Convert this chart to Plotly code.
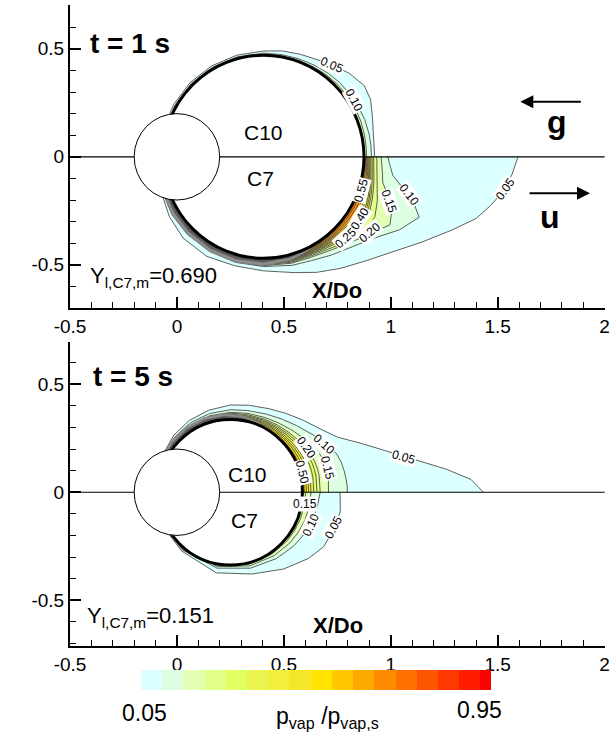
import numpy as np
import plotly.graph_objects as go

FONT = "Liberation Sans, Arial, Helvetica, sans-serif"

# ---------------- axes ----------------
X_RANGE = [-0.5, 2.002]
Y_RANGE_T1 = [-0.700, 0.703]
Y_RANGE_T5 = [-0.712, 0.697]
XTICK_VALS = [-0.5, 0, 0.5, 1, 1.5, 2]
XTICK_TEXT = ["-0.5", "0", "0.5", "1", "1.5", "2"]
YTICK_VALS = [-0.5, 0, 0.5]
YTICK_TEXT = ["-0.5", "0", "0.5"]

# ---------------- geometry (X/Do, Y/Do) ----------------
SUPPORT_R = 0.2
DROP_T1_CX, DROP_T1_R = 0.405, 0.47
DROP_T5_CX, DROP_T5_R = 0.25, 0.337

# ---------------- colour bands (p_vap/p_vap,s) ----------------
CB_COLORS = ["#dcffff", "#dcffe2", "#e4ffb4", "#e2ff88", "#e0ff60", "#ebf54e",
             "#f1ef3c", "#f6e62a", "#ffe400", "#ffc800", "#ffaa00", "#ff8c00",
             "#ff7000", "#ff5500", "#ff3800", "#ff1c00", "#ff0000"]
CB_EDGES = [0.05, 0.10, 0.15, 0.20, 0.25, 0.30, 0.35, 0.40, 0.45, 0.50, 0.55,
            0.60, 0.65, 0.70, 0.75, 0.80, 0.85, 0.875]

# ---------------- contour lines: offset from droplet surface vs polar angle ----------------
# t = 1 s, upper half (C10)
T1_UP_ANG = [0, 6, 12, 20, 28, 35, 44, 52, 60, 70, 80, 90, 105, 120, 135, 150, 162]
T1_UP = {
    0.05: [0.05, 0.051, 0.055, 0.072, 0.097, 0.105, 0.087, 0.065, 0.047, 0.035, 0.028, 0.02, 0.017, 0.016, 0.016, 0.015, 0.014],
    0.10: [0.035, 0.035, 0.035, 0.034, 0.031, 0.028, 0.025, 0.021, 0.017, 0.013, 0.011, 0.01, 0.009, 0.009, 0.009, 0.008, 0.008],
    0.15: [0.012, 0.012, 0.013, 0.014, 0.014, 0.013, 0.012, 0.01, 0.008, 0.006, 0.005, 0.005, 0.005, 0.005, 0.005, 0.005, 0.005],
}
# t = 1 s, lower half (C7)
T1_LO_ANG = [0, -4, -8, -12, -16, -21, -28, -36, -45, -55, -65, -75, -90, -105, -120, -135, -148, -162]
T1_LO = {
    0.05: [0.72, 0.695, 0.665, 0.615, 0.565, 0.475, 0.37, 0.28, 0.21, 0.16, 0.12, 0.085, 0.058, 0.052, 0.062, 0.062, 0.05, 0.035],
    0.10: [0.111, 0.125, 0.14, 0.19, 0.255, 0.31, 0.25, 0.17, 0.12, 0.085, 0.06, 0.05, 0.038, 0.036, 0.036, 0.036, 0.035, 0.03],
    0.15: [0.08, 0.085, 0.092, 0.1, 0.13, 0.175, 0.2, 0.14, 0.095, 0.062, 0.045, 0.04, 0.034, 0.033, 0.033, 0.033, 0.032, 0.028],
    0.20: [0.06, 0.062, 0.068, 0.075, 0.085, 0.1, 0.12, 0.12, 0.085, 0.053, 0.039, 0.035, 0.031, 0.03, 0.03, 0.03, 0.029, 0.025],
    0.25: [0.045, 0.047, 0.052, 0.058, 0.065, 0.075, 0.09, 0.09, 0.068, 0.045, 0.034, 0.031, 0.028, 0.027, 0.027, 0.027, 0.026, 0.023],
    0.30: [0.038, 0.04, 0.045, 0.05, 0.057, 0.067, 0.08, 0.078, 0.058, 0.039, 0.03, 0.028, 0.025, 0.024, 0.024, 0.024, 0.023, 0.02],
    0.35: [0.032, 0.034, 0.038, 0.043, 0.05, 0.06, 0.072, 0.068, 0.05, 0.034, 0.027, 0.025, 0.022, 0.021, 0.021, 0.021, 0.02, 0.018],
    0.40: [0.027, 0.029, 0.033, 0.037, 0.044, 0.054, 0.065, 0.06, 0.043, 0.03, 0.024, 0.022, 0.019, 0.018, 0.018, 0.018, 0.017, 0.015],
    0.45: [0.022, 0.024, 0.027, 0.031, 0.037, 0.045, 0.055, 0.05, 0.036, 0.026, 0.021, 0.019, 0.016, 0.015, 0.015, 0.015, 0.014, 0.013],
    0.50: [0.017, 0.019, 0.022, 0.025, 0.03, 0.037, 0.045, 0.041, 0.03, 0.022, 0.018, 0.016, 0.013, 0.012, 0.012, 0.012, 0.011, 0.01],
    0.55: [0.012, 0.014, 0.017, 0.02, 0.024, 0.029, 0.035, 0.032, 0.024, 0.018, 0.015, 0.013, 0.01, 0.009, 0.009, 0.009, 0.008, 0.008],
    0.60: [0.008, 0.009, 0.011, 0.014, 0.017, 0.021, 0.025, 0.023, 0.018, 0.014, 0.011, 0.01, 0.007, 0.006, 0.006, 0.006, 0.006, 0.005],
    0.65: [0.004, 0.005, 0.006, 0.008, 0.01, 0.012, 0.014, 0.013, 0.011, 0.009, 0.007, 0.006, 0.004, 0.003, 0.003, 0.003, 0.003, 0.003],
}
# t = 5 s, upper half (C10)
T5_UP_ANG = [0, 3, 6, 10, 15, 20, 27, 35, 45, 55, 65, 78, 90, 105, 120, 135, 150]
T5_UP = {
    0.05: [0.846, 0.79, 0.68, 0.54, 0.41, 0.32, 0.225, 0.175, 0.138, 0.11, 0.09, 0.075, 0.067, 0.056, 0.047, 0.037, 0.024],
    0.10: [0.21, 0.21, 0.208, 0.205, 0.2, 0.19, 0.165, 0.13, 0.1, 0.078, 0.062, 0.05, 0.045, 0.04, 0.035, 0.028, 0.02],
    0.15: [0.122, 0.123, 0.124, 0.126, 0.127, 0.122, 0.11, 0.09, 0.07, 0.055, 0.045, 0.037, 0.033, 0.03, 0.027, 0.022, 0.016],
    0.20: [0.083, 0.083, 0.084, 0.085, 0.085, 0.082, 0.077, 0.065, 0.053, 0.044, 0.037, 0.031, 0.029, 0.026, 0.023, 0.019, 0.014],
    0.25: [0.068, 0.068, 0.069, 0.07, 0.07, 0.068, 0.064, 0.055, 0.045, 0.037, 0.031, 0.026, 0.025, 0.023, 0.02, 0.017, 0.012],
    0.30: [0.053, 0.053, 0.054, 0.055, 0.055, 0.054, 0.051, 0.045, 0.037, 0.031, 0.026, 0.022, 0.021, 0.019, 0.017, 0.014, 0.01],
    0.35: [0.04, 0.04, 0.041, 0.042, 0.042, 0.041, 0.039, 0.035, 0.029, 0.025, 0.021, 0.018, 0.017, 0.016, 0.014, 0.012, 0.008],
    0.40: [0.029, 0.029, 0.03, 0.031, 0.031, 0.03, 0.029, 0.026, 0.022, 0.019, 0.016, 0.014, 0.013, 0.012, 0.011, 0.009, 0.006],
    0.45: [0.019, 0.019, 0.02, 0.021, 0.021, 0.02, 0.019, 0.017, 0.015, 0.013, 0.011, 0.01, 0.009, 0.009, 0.008, 0.007, 0.005],
    0.50: [0.009, 0.009, 0.01, 0.011, 0.011, 0.01, 0.01, 0.009, 0.008, 0.007, 0.006, 0.005, 0.005, 0.005, 0.004, 0.004, 0.003],
}
# t = 5 s, lower half (C7)
T5_LO_ANG = [0, -10, -20, -30, -40, -55, -75, -100, -130, -150]
T5_LO = {
    0.05: [0.176, 0.185, 0.175, 0.167, 0.14, 0.097, 0.055, 0.042, 0.018, 0.012],
    0.10: [0.083, 0.075, 0.067, 0.058, 0.05, 0.038, 0.027, 0.02, 0.012, 0.008],
    0.15: [0.04, 0.038, 0.035, 0.031, 0.027, 0.021, 0.016, 0.012, 0.008, 0.005],
    0.20: [0.015, 0.014, 0.013, 0.012, 0.011, 0.009, 0.008, 0.006, 0.004, 0.003],
}

# densely packed contour lines (grey bands): polar angle, outer / inner edge offsets
T1_BAND_ANG = [-55, -65, -75, -90, -105, -120, -135, -148, -162]
T1_BAND_OUT = [0.0, 0.012, 0.025, 0.033, 0.035, 0.036, 0.036, 0.034, 0.03]
T1_BAND_IN = [0.0, 0.006, 0.012, 0.018, 0.02, 0.021, 0.021, 0.02, 0.018]
T5_BAND_ANG = [58, 68, 80, 95, 110, 125, 140, 150]
T5_BAND_OUT = [0.0, 0.012, 0.022, 0.028, 0.03, 0.03, 0.028, 0.022]
T5_BAND_IN = [0.0, 0.006, 0.012, 0.016, 0.018, 0.018, 0.016, 0.012]

# contour labels: (text, x, y, angle)
T1_LABELS = [("0.05", 0.725, 0.425, 23), ("0.10", 0.828, 0.262, 62),
             ("0.05", 1.534, -0.147, -55), ("0.10", 1.087, -0.177, 52),
             ("0.15", 0.994, -0.208, 70), ("0.20", 0.905, -0.350, -40),
             ("0.25", 0.79, -0.377, -42), ("0.40", 0.858, -0.285, -58),
             ("0.55", 0.862, -0.154, -75)]
T5_LABELS = [("0.05", 1.06, 0.165, 16), ("0.10", 0.686, 0.222, 42),
             ("0.20", 0.606, 0.204, 55), ("0.15", 0.703, 0.111, 76),
             ("0.50", 0.585, 0.092, 76), ("0.15", 0.598, -0.055, 0),
             ("0.10", 0.626, -0.151, -65), ("0.05", 0.732, -0.159, -62)]


def band_color(level):
    return CB_COLORS[int(round(level / 0.05)) - 1]


def quadrant_traces(cx, R, angles, levels, xa, ya):
    out = []
    th = np.deg2rad(np.asarray(angles, float))
    for lev in sorted(levels):
        r = R + np.asarray(levels[lev], float)
        xs = np.concatenate([cx + r * np.cos(th), [0.0]])
        ys = np.concatenate([r * np.sin(th), [0.0]])
        out.append(go.Scatter(x=xs, y=ys, mode="lines", fill="toself",
                              fillcolor=band_color(lev),
                              line=dict(color="#4d4d4d", width=0.9),
                              hoverinfo="skip", showlegend=False,
                              xaxis=xa, yaxis=ya))
    return out


def grey_band(cx, R, angles, outer, inner, xa, ya):
    th = np.deg2rad(np.asarray(angles, float))
    out = []
    for offs, col in ((outer, "#8c8c8c"), (inner, "#5a5a5a")):
        r = R + np.asarray(offs, float)
        xs = np.concatenate([cx + r * np.cos(th), (cx + R * np.cos(th))[::-1]])
        ys = np.concatenate([r * np.sin(th), (R * np.sin(th))[::-1]])
        out.append(go.Scatter(x=xs, y=ys, mode="lines", fill="toself", fillcolor=col,
                              line=dict(color=col, width=0.5), hoverinfo="skip",
                              showlegend=False, xaxis=xa, yaxis=ya))
    return out


fig = go.Figure()
for tr in (quadrant_traces(DROP_T1_CX, DROP_T1_R, T1_UP_ANG, T1_UP, "x", "y")
           + quadrant_traces(DROP_T1_CX, DROP_T1_R, T1_LO_ANG, T1_LO, "x", "y")
           + grey_band(DROP_T1_CX, DROP_T1_R, T1_BAND_ANG, T1_BAND_OUT, T1_BAND_IN, "x", "y")
           + quadrant_traces(DROP_T5_CX, DROP_T5_R, T5_UP_ANG, T5_UP, "x2", "y2")
           + quadrant_traces(DROP_T5_CX, DROP_T5_R, T5_LO_ANG, T5_LO, "x2", "y2")
           + grey_band(DROP_T5_CX, DROP_T5_R, T5_BAND_ANG, T5_BAND_OUT, T5_BAND_IN, "x2", "y2")):
    fig.add_trace(tr)

# colour bar as discrete heatmap
n = len(CB_COLORS)
cscale = []
for i, c in enumerate(CB_COLORS):
    cscale.append([i / n, c])
    cscale.append([(i + 1) / n, c])
fig.add_trace(go.Heatmap(z=[[i + 0.5 for i in range(n)]], x=CB_EDGES, y=[0, 1],
                         zmin=0, zmax=n, colorscale=cscale, showscale=False,
                         hoverinfo="skip", xaxis="x3", yaxis="y3"))

shapes = []
for xr, yr, cx, R in (("x", "y", DROP_T1_CX, DROP_T1_R), ("x2", "y2", DROP_T5_CX, DROP_T5_R)):
    shapes.append(dict(type="circle", xref=xr, yref=yr, x0=cx - R, x1=cx + R, y0=-R, y1=R,
                       line=dict(color="black", width=3), fillcolor="white", layer="above"))
    shapes.append(dict(type="line", xref=xr, yref=yr, x0=-0.5, x1=2.0, y0=0, y1=0,
                       line=dict(color="black", width=1.2), layer="above"))
    shapes.append(dict(type="circle", xref=xr, yref=yr, x0=-SUPPORT_R, x1=SUPPORT_R,
                       y0=-SUPPORT_R, y1=SUPPORT_R,
                       line=dict(color="black", width=1), fillcolor="white", layer="above"))

ann = []


def txt(text, x, y, xr, yr, size, bold=False, **kw):
    if bold:
        text = "<b>" + text + "</b>"
    d = dict(text=text, x=x, y=y, xref=xr, yref=yr, showarrow=False,
             xanchor="center", yanchor="middle",
             font=dict(family=FONT, size=size, color="black"))
    d.update(kw)
    ann.append(d)


for labels, xr, yr in ((T1_LABELS, "x", "y"), (T5_LABELS, "x2", "y2")):
    for t, x, y, a in labels:
        txt(t, x, y, xr, yr, 12, textangle=a, bgcolor="white", borderpad=0)

txt("t = 1 s", -0.22, 0.526, "x", "y", 28, bold=True)
txt("t = 5 s", -0.206, 0.536, "x2", "y2", 28, bold=True)
txt("C10", 0.404, 0.111, "x", "y", 21)
txt("C7", 0.393, -0.10, "x", "y", 21)
txt("C10", 0.33, 0.08, "x2", "y2", 21)
txt("C7", 0.318, -0.131, "x2", "y2", 21)
txt("Y<sub>l,C7,m</sub>=0.690", -0.415, -0.555, "x", "y", 22, xanchor="left")
txt("Y<sub>l,C7,m</sub>=0.151", -0.43, -0.58, "x2", "y2", 22, xanchor="left")
txt("X/Do", 0.747, -0.617, "x", "y", 22, bold=True)
txt("X/Do", 0.755, -0.616, "x2", "y2", 22, bold=True)
txt("Y/Do", -0.755, 0.017, "x", "y", 22, bold=True, textangle=-90)
txt("Y/Do", -0.755, -0.058, "x2", "y2", 22, bold=True, textangle=-90)
txt("g", 1.778, 0.162, "x", "y", 32, bold=True)
txt("u", 1.743, -0.278, "x", "y", 32, bold=True)

# arrows g and u
ann.append(dict(x=1.606, y=0.255, ax=1.896, ay=0.255, xref="x", yref="y", axref="x", ayref="y",
                text="", showarrow=True, arrowhead=2, arrowsize=1.3, arrowwidth=2, arrowcolor="black"))
ann.append(dict(x=1.932, y=-0.169, ax=1.642, ay=-0.169, xref="x", yref="y", axref="x", ayref="y",
                text="", showarrow=True, arrowhead=2, arrowsize=1.3, arrowwidth=2, arrowcolor="black"))

# colour bar texts (paper coords)
txt("0.05", 0.139, -0.0187, "paper", "paper", 23)
txt("0.95", 0.765, -0.0144, "paper", "paper", 23)
txt("p<sub>vap</sub> /p<sub>vap,s</sub>", 0.481, -0.0245, "paper", "paper", 23)

axis_common = dict(showline=True, linewidth=2, linecolor="black", mirror=False,
                   ticks="inside", ticklen=11, tickwidth=2, tickcolor="black",
                   showgrid=False, zeroline=False,
                   tickfont=dict(family=FONT, size=19, color="black"),
                   minor=dict(ticks="inside", ticklen=6, tickwidth=1, tickcolor="black",
                              tickmode="linear", tick0=0, dtick=0.1, showgrid=False))

fig.update_layout(
    width=615, height=735,
    margin=dict(l=70, r=5, t=5, b=35),
    paper_bgcolor="white", plot_bgcolor="white",
    showlegend=False,
    shapes=shapes, annotations=ann,
    xaxis=dict(domain=[0, 1], range=X_RANGE, anchor="y", tickmode="array",
               tickvals=XTICK_VALS, ticktext=XTICK_TEXT, **axis_common),
    yaxis=dict(domain=[0.564, 1.0], range=Y_RANGE_T1, anchor="x", tickmode="array",
               tickvals=YTICK_VALS, ticktext=YTICK_TEXT, **axis_common),
    xaxis2=dict(domain=[0, 1], range=X_RANGE, anchor="y2", tickmode="array",
                tickvals=XTICK_VALS, ticktext=XTICK_TEXT, **axis_common),
    yaxis2=dict(domain=[0.0777, 0.5155], range=Y_RANGE_T5, anchor="x2", tickmode="array",
                tickvals=YTICK_VALS, ticktext=YTICK_TEXT, **axis_common),
    xaxis3=dict(domain=[0.1328, 0.787], range=[CB_EDGES[0], CB_EDGES[-1]], anchor="y3",
                visible=False),
    yaxis3=dict(domain=[0.0144, 0.0432], range=[0, 1], anchor="x3", visible=False),
)

fig.write_html("out.html")
